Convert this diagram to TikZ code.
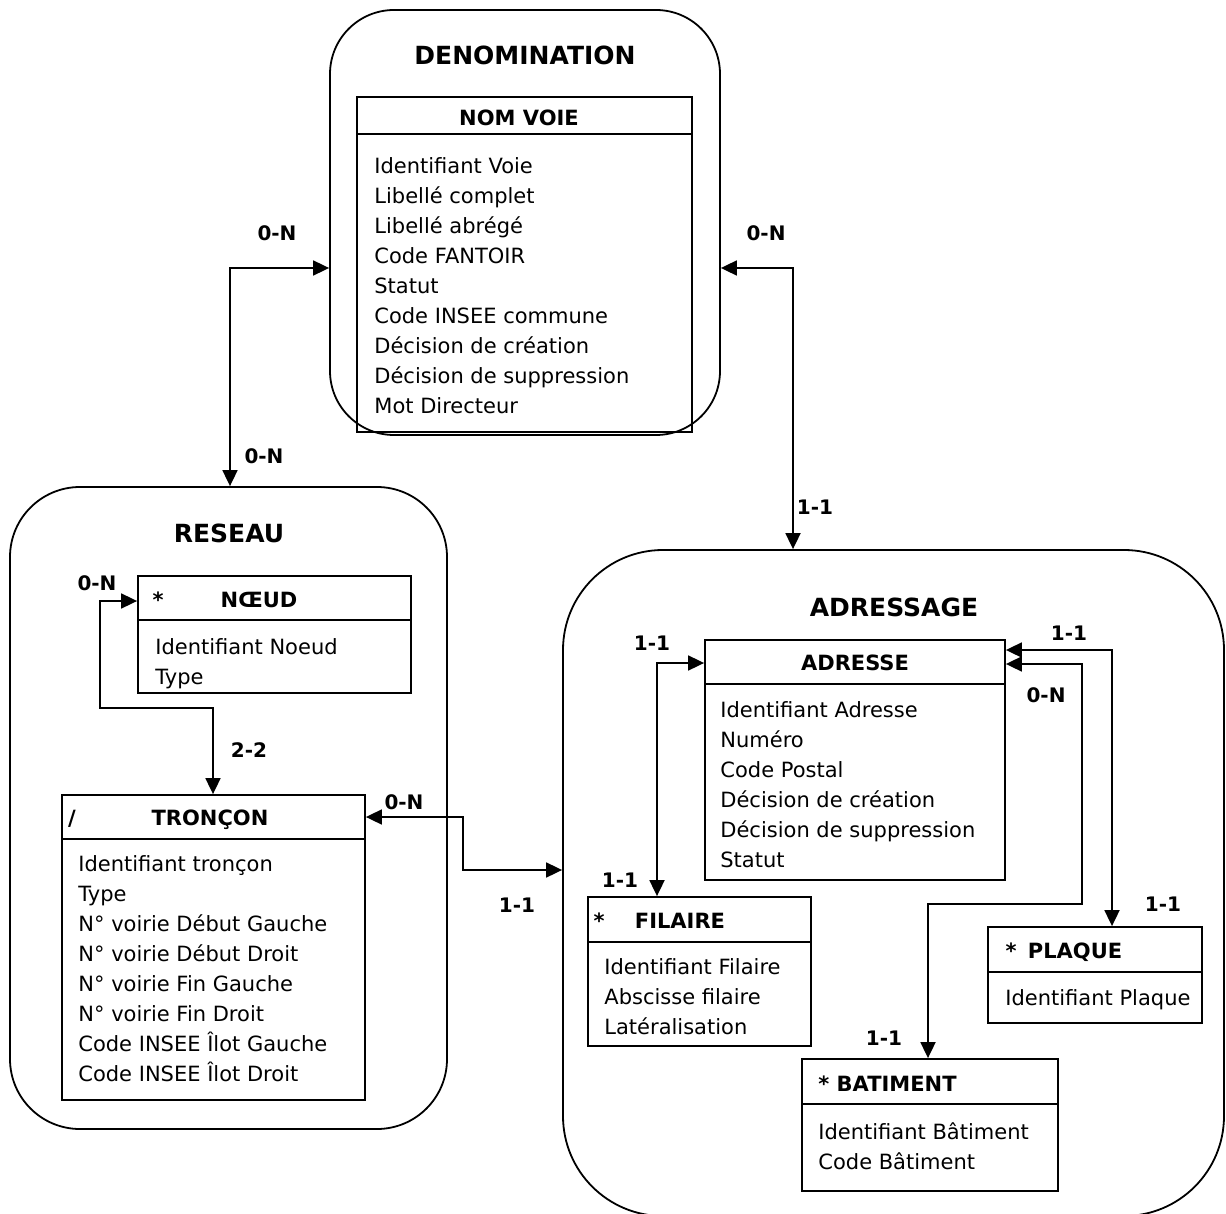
\documentclass[tikz,border=0pt]{standalone}
\usepackage{fontspec}
\setmainfont{DejaVu Sans}
\usetikzlibrary{shapes,arrows.meta}

\begin{document}
\begin{tikzpicture}[x=0.5pt,y=-0.5pt,
	group/.style={draw,line width=0.9pt,inner sep=0pt},
	entity/.style={draw,line width=0.9pt,inner sep=0pt},
	title/.style={font=\fontsize{12.5}{14}\selectfont\bfseries,text height=9.1pt,text depth=0pt,inner sep=0pt},
	head/.style={font=\fontsize{10.5}{13}\selectfont\bfseries,text height=7.7pt,text depth=0pt,inner sep=0pt},
	attr/.style={font=\fontsize{10.5}{15}\selectfont,align=left,anchor=north west,inner sep=0pt},
	card/.style={font=\fontsize{10}{11}\selectfont\bfseries,text height=7.3pt,text depth=0pt,inner sep=0pt},
	link/.style={line width=0.9pt,{Triangle[length=8pt,width=7.5pt]}-{Triangle[length=8pt,width=7.5pt]}}]
	\useasboundingbox (0,0) rectangle (1226,1214);
	\clip (0,0) rectangle (1226,1214);
	% packages
	\node[group,rounded corners=32pt,minimum width=195pt,minimum height=212.5pt] (denom) at (525,222.5) {};
	\node[group,rounded corners=35pt,minimum width=218.5pt,minimum height=321pt] (reseau) at (228.5,808) {};
	\node[group,rounded corners=50pt,minimum width=330.5pt,minimum height=333pt] (adressage) at (893.5,883) {};
	\node[title] (denom-t) at (525,55) {DENOMINATION};
	\node[title] (reseau-t) at (229,533) {RESEAU};
	\node[title] (adressage-t) at (894,607) {ADRESSAGE};
	% NOM VOIE
	\node[entity,minimum width=167.5pt,minimum height=167.5pt] (nomvoie) at (524.5,264.5) {};
	\draw[line width=0.9pt] ([yshift=-19pt]nomvoie.north west) -- ([yshift=-19pt]nomvoie.north east);
	\node[head] (nomvoie-h) at (519,118) {NOM VOIE};
	\node[attr] (nomvoie-a) at (374,157) {Identifiant Voie\\Libellé complet\\Libellé abrégé\\Code FANTOIR\\Statut\\Code INSEE commune\\Décision de création\\Décision de suppression\\Mot Directeur};
	% NOEUD
	\node[entity,minimum width=136.5pt,minimum height=58.5pt] (noeud) at (274.5,634.5) {};
	\draw[line width=0.9pt] ([yshift=-22.5pt]noeud.north west) -- ([yshift=-22.5pt]noeud.north east);
	\node[head] (noeud-s) at (158,600) {*};
	\node[head] (noeud-h) at (259,600) {NŒUD};
	\node[attr] (noeud-a) at (155,638) {Identifiant Noeud\\Type};
	% TRONCON
	\node[entity,minimum width=151.5pt,minimum height=152.5pt] (troncon) at (213.5,947.5) {};
	\draw[line width=0.9pt] ([yshift=-22.5pt]troncon.north west) -- ([yshift=-22.5pt]troncon.north east);
	\node[head] (troncon-s) at (72,818) {/};
	\node[head] (troncon-h) at (210,818) {TRONÇON};
	\node[attr] (troncon-a) at (78,855) {Identifiant tronçon\\Type\\N° voirie Début Gauche\\N° voirie Début Droit\\N° voirie Fin Gauche\\N° voirie Fin Droit\\Code INSEE Îlot Gauche\\Code INSEE Îlot Droit};
	% ADRESSE
	\node[entity,minimum width=150pt,minimum height=120pt] (adresse) at (855,760) {};
	\draw[line width=0.9pt] ([yshift=-22.5pt]adresse.north west) -- ([yshift=-22.5pt]adresse.north east);
	\node[head] (adresse-h) at (855,663) {ADRESSE};
	\node[attr] (adresse-a) at (720,701) {Identifiant Adresse\\Numéro\\Code Postal\\Décision de création\\Décision de suppression\\Statut};
	% FILAIRE
	\node[entity,minimum width=111.5pt,minimum height=74.5pt] (filaire) at (699.5,971.5) {};
	\draw[line width=0.9pt] ([yshift=-23pt]filaire.north west) -- ([yshift=-23pt]filaire.north east);
	\node[head] (filaire-s) at (599,921) {*};
	\node[head] (filaire-h) at (680,921) {FILAIRE};
	\node[attr] (filaire-a) at (604,958) {Identifiant Filaire\\Abscisse filaire\\Latéralisation};
	% PLAQUE
	\node[entity,minimum width=107pt,minimum height=48pt] (plaque) at (1095,975) {};
	\draw[line width=0.9pt] ([yshift=-23pt]plaque.north west) -- ([yshift=-23pt]plaque.north east);
	\node[head] (plaque-s) at (1011,951) {*};
	\node[head] (plaque-h) at (1075,951) {PLAQUE};
	\node[attr] (plaque-a) at (1005,989) {Identifiant Plaque};
	% BATIMENT
	\node[entity,minimum width=128pt,minimum height=66pt] (batiment) at (930,1125) {};
	\draw[line width=0.9pt] ([yshift=-23pt]batiment.north west) -- ([yshift=-23pt]batiment.north east);
	\node[head,anchor=west] (batiment-h) at (818,1084) {* BATIMENT};
	\node[attr] (batiment-a) at (818,1122) {Identifiant Bâtiment\\Code Bâtiment};
	% bends
	\coordinate (c1) at (230,268);
	\coordinate (c2) at (793,268);
	\coordinate (c3) at (100,601);
	\coordinate (c4) at (100,708);
	\coordinate (c5) at (213,708);
	\coordinate (c6) at (463,817);
	\coordinate (c7) at (463,870);
	\coordinate (c8) at (657,663);
	\coordinate (c9) at (1112,650);
	\coordinate (c10) at (1082,664);
	\coordinate (c11) at (1082,904);
	\coordinate (c12) at (928,904);
	% links
	\draw[link] (denom.west |- c1) -- (c1) -- (c1 |- reseau.north);
	\draw[link] (denom.east |- c2) -- (c2) -- (c2 |- adressage.north);
	\draw[link] (noeud.west |- c3) -- (c3) -- (c4) -- (c5) -- (c5 |- troncon.north);
	\draw[link] (troncon.east |- c6) -- (c6) -- (c7) -- (c7 -| adressage.west);
	\draw[link] (adresse.west |- c8) -- (c8) -- (c8 |- filaire.north);
	\draw[link] (adresse.east |- c9) -- (c9) -- (c9 |- plaque.north);
	\draw[link] (adresse.east |- c10) -- (c10) -- (c11) -- (c12) -- (c12 |- batiment.north);
	% cardinalities
	\node[card] (k1) at (277,233) {0-N};
	\node[card] (k2) at (264,456) {0-N};
	\node[card] (k3) at (766,233) {0-N};
	\node[card] (k4) at (815,507) {1-1};
	\node[card] (k5) at (97,583) {0-N};
	\node[card] (k6) at (249,750) {2-2};
	\node[card] (k7) at (404,802) {0-N};
	\node[card] (k8) at (517,905) {1-1};
	\node[card] (k9) at (652,643) {1-1};
	\node[card] (k10) at (620,880) {1-1};
	\node[card] (k11) at (1069,633) {1-1};
	\node[card] (k12) at (1163,904) {1-1};
	\node[card] (k13) at (1046,695) {0-N};
	\node[card] (k14) at (884,1038) {1-1};
\end{tikzpicture}
\end{document}
